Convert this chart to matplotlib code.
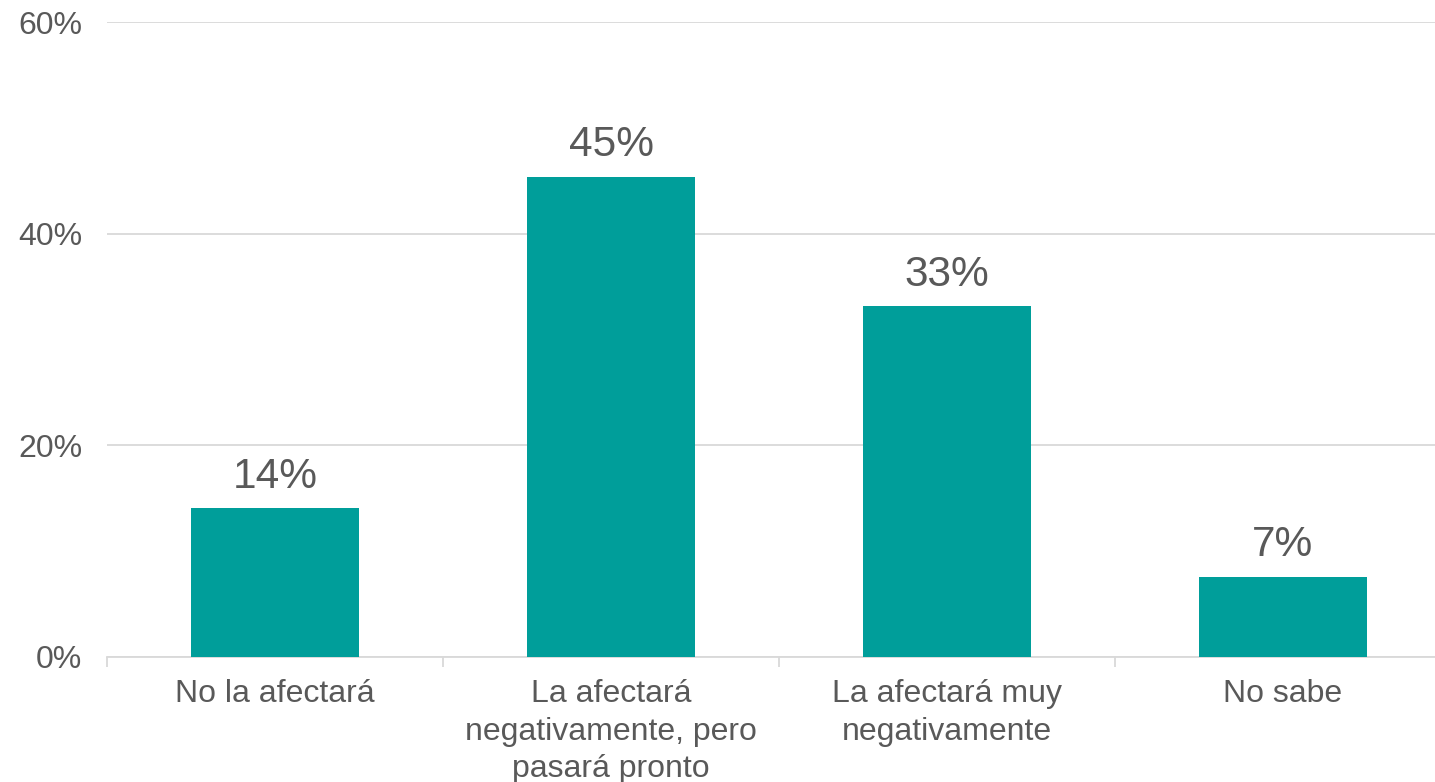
import matplotlib.pyplot as plt
import numpy as np

plt.rcParams['font.family'] = ['Liberation Sans', 'DejaVu Sans']

# Survey answers and shares (%)
categories = [
    "No la afectará",
    "La afectará\nnegativamente, pero\npasará pronto",
    "La afectará muy\nnegativamente",
    "No sabe",
]
values = [14.1, 45.4, 33.2, 7.6]
value_labels = ["14%", "45%", "33%", "7%"]
y_ticks = [0, 20, 40, 60]
y_tick_labels = ["0%", "20%", "40%", "60%"]

BAR_COLOR = "#009E9A"
TEXT_COLOR = "#595959"
GRID_COLOR = "#D9D9D9"

fig = plt.figure(figsize=(14.35, 7.82), dpi=100)
# axis runs a little past the right edge, as in the original
ax = fig.add_axes([107 / 1435, 125 / 782, 1344 / 1435, 635 / 782])

x = np.arange(len(categories))
bars = ax.bar(x, values, width=0.5, color=BAR_COLOR, zorder=3)

for bar, lab in zip(bars, value_labels):
    ax.annotate(lab, (bar.get_x() + bar.get_width() / 2, bar.get_height()),
                xytext=(0, 8), textcoords="offset points",
                ha="center", va="bottom", fontsize=30.5, color=TEXT_COLOR)

ax.set_xlim(-0.5, len(categories) - 0.5)
ax.set_ylim(0, 60)

ax.set_yticks(y_ticks)
ax.set_yticklabels(y_tick_labels)
ax.tick_params(axis="y", length=0, pad=18, labelsize=23, labelcolor=TEXT_COLOR)
ax.yaxis.grid(True, color=GRID_COLOR, linewidth=1.3, zorder=0)

ax.set_xticks(x)
ax.set_xticklabels(categories, linespacing=1.32)
ax.set_xticks(np.arange(-0.5, len(categories), 1), minor=True)
ax.tick_params(axis="x", which="major", length=0, pad=16, labelsize=23,
               labelcolor=TEXT_COLOR)
ax.tick_params(axis="x", which="minor", length=7, width=1.3, color=GRID_COLOR)

for side in ["top", "right", "left"]:
    ax.spines[side].set_visible(False)
ax.spines["bottom"].set_color(GRID_COLOR)
ax.spines["bottom"].set_linewidth(1.3)

fig.savefig("out.png", dpi=100)
